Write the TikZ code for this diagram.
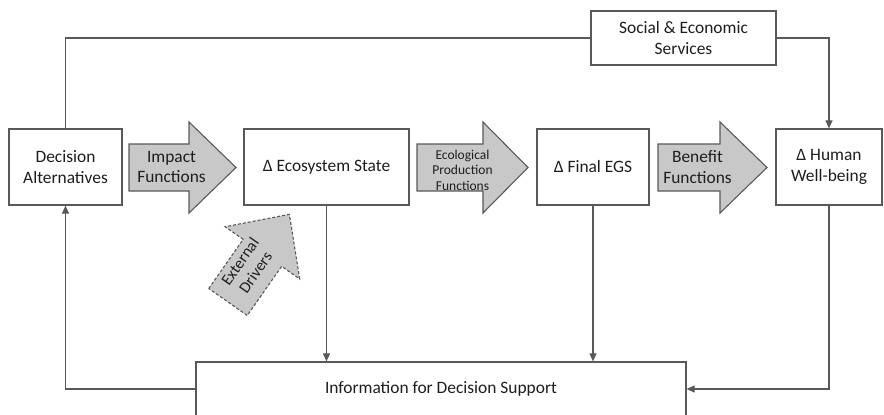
\documentclass[tikz,border=0pt]{standalone}
\usepackage{fontspec}
\setmainfont{Carlito}
\usepackage{tikz}
\usetikzlibrary{arrows.meta,positioning,calc}
\definecolor{egline}{RGB}{89,89,89}
\definecolor{egtext}{RGB}{30,30,30}
\definecolor{egfill}{RGB}{200,200,200}
\tikzstyle{box} = [draw=egline, line width=1.2pt, fill=white, text=egtext, align=center, font=\fontsize{17.4}{20.5}\selectfont, inner sep=0pt]
\tikzstyle{blockarrow} = [draw=egline, line width=1.1pt, fill=egfill, line join=miter]
\tikzstyle{link} = [draw=egline, line width=1.1pt]
\tikzstyle{flow} = [link, -{Triangle[length=8pt,width=7pt]}]
\tikzstyle{label} = [text=egtext, align=center, font=\fontsize{17.4}{20.5}\selectfont, inner sep=0pt]

\begin{document}
\begin{tikzpicture}[x=1pt, y=-1pt]
\path[use as bounding box, clip] (0,0) rectangle (884,415);

% Boxes
\node[box, minimum width=113, minimum height=76] (da) at (65.5,167) {Decision\\Alternatives};
\node[box, minimum width=165, minimum height=76] (es) at (326.5,167) {Δ Ecosystem State};
\node[box, minimum width=112, minimum height=76] (feg) at (593,167) {Δ Final EGS};
\node[box, minimum width=106, minimum height=76] (hwb) at (829,167) {Δ Human\\Well-being};
\node[box, minimum width=185, minimum height=54] (ses) at (683.5,38) {Social \& Economic\\Services};
\node[box, minimum width=490, minimum height=54] (info) at (441,389) {Information for Decision Support};

% Block arrows between the boxes
\foreach \x/\b/\h in {129/60/47, 417/66/45, 658/62/47} {
  \begin{scope}[shift={(\x,167.5)}]
    \draw[blockarrow] (0,-23.5) -- (\b,-23.5) -- (\b,-45.5) -- (\b+\h,0) -- (\b,45.5) -- (\b,23.5) -- (0,23.5) -- cycle;
  \end{scope}
}
\node[label] (impact) at (171.5,167) {Impact\\Functions};
\node[label, font=\fontsize{13.5}{15.5}\selectfont] (ecoprod) at (462.5,170) {Ecological\\Production\\Functions};
\node[label] (benefit) at (697.5,167) {Benefit\\Functions};

% External drivers
\begin{scope}[shift={(228,302)}, rotate=55]
  \draw[blockarrow, dashed, dash pattern=on 3pt off 2pt] (0,-23.5) -- (60,-23.5) -- (60,-45.5) -- (107,0) -- (60,45.5) -- (60,23.5) -- (0,23.5) -- cycle;
  \node[label, rotate=55, font=\fontsize{16}{19}\selectfont] (drivers) at (40,-4) {External\\Drivers};
\end{scope}

% Connectors
\draw[link] (da.north) |- (ses.west);
\draw[flow] (ses.east) -| (hwb.north);
\draw[flow] (es.south) -- (es.south |- info.north);
\draw[flow] (feg.south) -- (feg.south |- info.north);
\draw[flow] (hwb.south) |- (info.east);
\draw[flow] (info.west) -| (da.south);
\end{tikzpicture}
\end{document}
